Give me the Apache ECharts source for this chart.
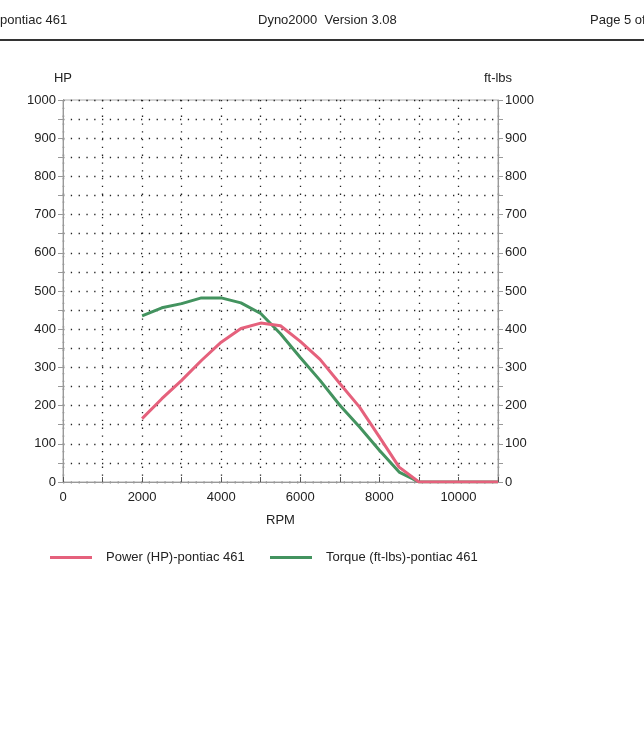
<!DOCTYPE html>
<html><head><meta charset="utf-8">
<script src="https://cdn.jsdelivr.net/npm/echarts@6/dist/echarts.min.js"></script>
<style>html,body{margin:0;padding:0;background:#fff}#c{width:644px;height:750px}</style>
</head><body><div id="c"></div>
<script>
const rpm = [2000,2500,3000,3500,4000,4500,5000,5500,6000,6500,7000,7500,8000,8500,9000,9500,10000,10500,11000];
const power = [166,218,266,318,366,402,416,409,368,321,258,196,118,39,0,0,0,0,0];
const torque = [435,456,467,482,482,469,441,388,326,266,201,144,83,26,0,0,0,0,0];
const headerLeft = 'pontiac 461';
const headerCenter = 'Dyno2000  Version 3.08';
const headerRight = 'Page 5 of';
const powerName = 'Power (HP)-pontiac 461';
const torqueName = 'Torque (ft-lbs)-pontiac 461';

const font = 'Liberation Sans, Arial, sans-serif';
const red = '#e5617c', green = '#43935f';
const dotted = {color:'#222', width:1.3, type:[1.3,6.5]};
const chart = echarts.init(document.getElementById('c'), null, {renderer:'canvas'});
const yAxisBase = (pos, name) => ({
  type:'value', position:pos, min:0, max:1000, interval:50, name:name,
  nameLocation:'end', nameGap:15,
  nameTextStyle:{color:'#222', fontSize:13, fontFamily:font, align:'center'},
  axisLine:{show:true, lineStyle:{color:'#999'}},
  axisTick:{show:true, length:5, lineStyle:{color:'#999'}},
  axisLabel:{color:'#222', fontSize:13, fontFamily:font, margin:7,
    formatter:v => v % 100 === 0 ? String(v) : ''},
  splitLine:{show:pos==='left', lineStyle:dotted}
});
chart.setOption({
  animation:false,
  backgroundColor:'#fff',
  textStyle:{fontFamily:font},
  graphic:[
    {type:'text', left:0, top:14, style:{text:headerLeft, fill:'#222', font:'13px '+font}},
    {type:'text', left:258, top:14, style:{text:headerCenter, fill:'#222', font:'13px '+font}},
    {type:'text', left:590, top:14, style:{text:headerRight, fill:'#222', font:'13px '+font}},
    {type:'rect', shape:{x:0, y:39, width:644, height:2}, style:{fill:'#333'}}
  ],
  grid:{left:63, right:146, top:100, bottom:268, show:true, borderColor:'#aaa', borderWidth:1, backgroundColor:'transparent'},
  xAxis:{type:'value', min:0, max:11000, interval:1000, name:'RPM', nameLocation:'middle', nameGap:32,
    nameTextStyle:{color:'#222', fontSize:13, fontFamily:font},
    axisLine:{show:true, lineStyle:{color:'#999'}},
    axisTick:{show:true, inside:true, length:5, lineStyle:{color:'#555'}},
    axisLabel:{color:'#222', fontSize:13, fontFamily:font, margin:9,
      formatter:v => v % 2000 === 0 ? String(v) : ''},
    splitLine:{show:true, lineStyle:dotted}},
  yAxis:[yAxisBase('left','HP'), yAxisBase('right','ft-lbs')],
  legend:[
    {left:45, top:546, data:[powerName], icon:'rect', itemWidth:42, itemHeight:3,
     textStyle:{color:'#222', fontSize:13, fontFamily:font, padding:[0,0,0,9]}},
    {left:265, top:546, data:[torqueName], icon:'rect', itemWidth:42, itemHeight:3,
     textStyle:{color:'#222', fontSize:13, fontFamily:font, padding:[0,0,0,9]}}
  ],
  series:[
    {name:torqueName, type:'line', yAxisIndex:1, data:rpm.map((r,i)=>[r,torque[i]]),
     showSymbol:false, symbol:'none', lineStyle:{color:green, width:3}, itemStyle:{color:green}, z:3},
    {name:powerName, type:'line', yAxisIndex:0, data:rpm.map((r,i)=>[r,power[i]]),
     showSymbol:false, symbol:'none', lineStyle:{color:red, width:3}, itemStyle:{color:red}, z:4}
  ]
});
</script></body></html>
